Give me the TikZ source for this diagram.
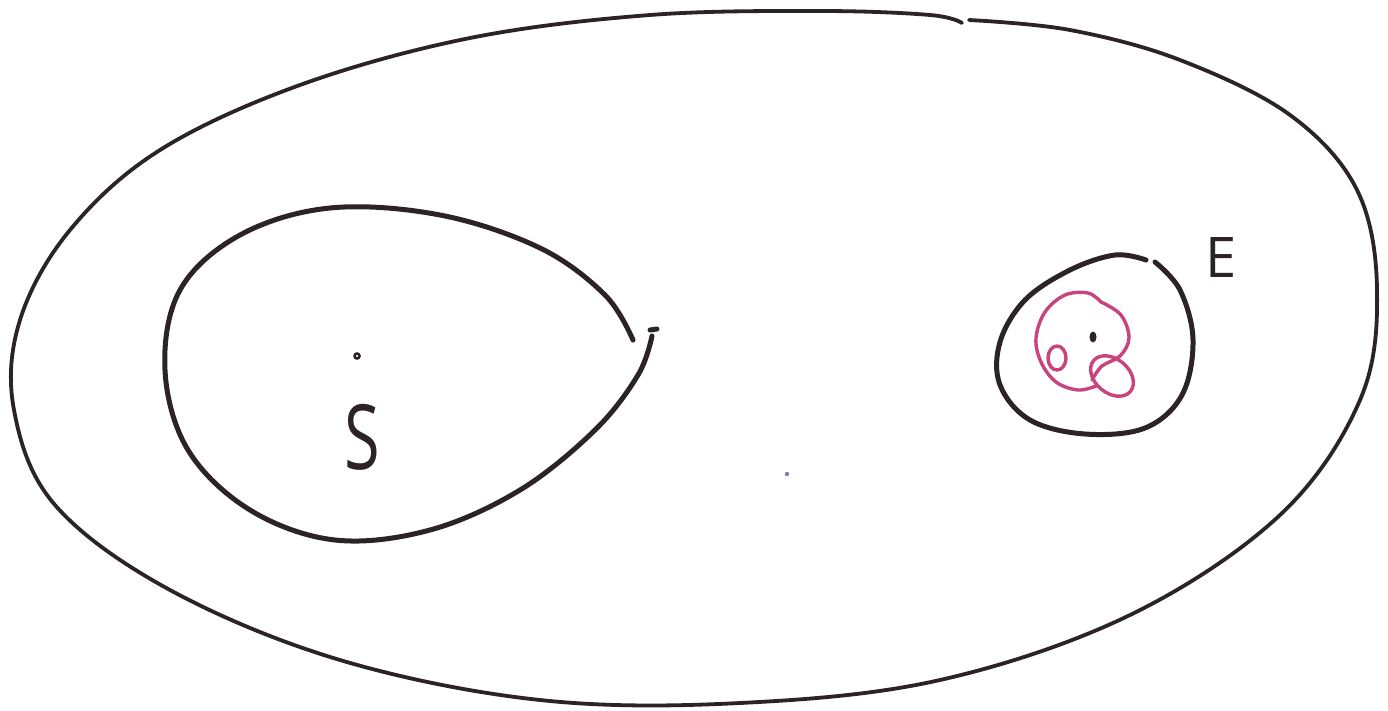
\documentclass[tikz,border=0pt]{standalone}
\usepackage{fontspec}
\setsansfont{Open Sans}
\definecolor{ink}{HTML}{2B2327}
\definecolor{pinkink}{HTML}{C9437F}
\definecolor{dotblue}{HTML}{7A7FB0}
\begin{document}
\begin{tikzpicture}[x=1pt,y=-1pt,
  outerline/.style={draw=ink,line width=3.8pt,line cap=round,line join=round},
  innerline/.style={draw=ink,line width=5pt,line cap=round,line join=round},
  pinkline/.style={draw=pinkink,line width=3.4pt,line cap=round,line join=round},
  letter/.style={text=ink,font=\sffamily\fontsize{#1}{#1}\selectfont,inner sep=0pt}]
\useasboundingbox (0,0) rectangle (1388,710);
\fill[white] (0,0) rectangle (1388,710);
% outer region
\draw[outerline] plot[smooth,tension=0.6] coordinates {
 (962,23) (930,15) (820,11) (650,15) (470,38) (300,85) (160,150) (70,230) (20,320)
 (14,410) (55,505) (170,590) (340,660) (540,700) (740,703) (940,680)
 (1130,615) (1280,515) (1360,400) (1377,290) (1357,190) (1290,115)
 (1180,60) (1070,30) (969,20)};
% S region
\draw[innerline] plot[smooth,tension=0.6] coordinates {
 (633,340) (605,295) (540,248) (440,215) (330,208) (240,235) (180,290)
 (165,370) (188,450) (250,510) (335,540) (430,530) (520,490) (595,430)
 (638,375) (652,336)};
\draw[innerline] (650,330) -- (657,329);
\draw[ink,line width=2.5pt] (357,356) circle (2.5);
\node[letter=90, xscale=0.72] (S) at (362,437) {S};
% E region
\draw[innerline] plot[smooth,tension=0.6] coordinates {
 (1146,260) (1115,255) (1070,270) (1025,300) (1000,342) (1000,385)
 (1030,420) (1085,434) (1145,428) (1182,395) (1193,340) (1180,290)
 (1155,262)};
\fill[ink] (1093,337) ellipse (3.5 and 5.5);
\node[letter=56] (E) at (1221,258) {E};
% pink scribble
\draw[pinkline] plot[smooth,tension=0.6] coordinates {
 (1101,302) (1088,293) (1065,295) (1045,312) (1036,338) (1041,362)
 (1056,382) (1078,390) (1096,386)};
\draw[pinkline] plot[smooth,tension=0.6] coordinates {
 (1101,302) (1121,315) (1129,338) (1120,356) (1102,366) (1092,380)};
\draw[pinkline] (1057,358) ellipse (9 and 12);
\draw[pinkline,rotate around={-40:(1112,376)}] (1112,376) ellipse (24 and 17);
% small stray dot
\fill[dotblue] (787,474) circle (2.2);
\end{tikzpicture}
\end{document}
